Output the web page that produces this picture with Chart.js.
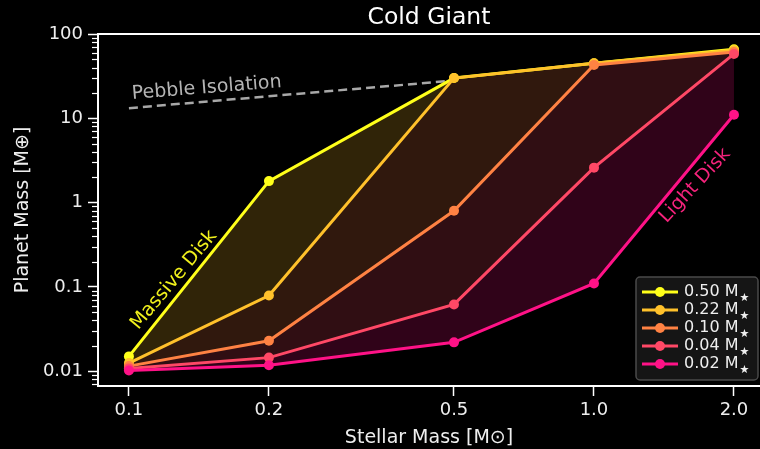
<!DOCTYPE html>
<html>
<head>
<meta charset="utf-8">
<script src="https://cdn.jsdelivr.net/npm/chart.js@4.4.1/dist/chart.umd.min.js"></script>
<style>
  html, body { margin: 0; padding: 0; background: #000; }
  #wrap { width: 760px; height: 449px; }
</style>
</head>
<body>
<div id="wrap"><canvas id="myChart"></canvas></div>
<script>
// stellar mass on x, planet mass on y (both log)
const stellarMass = [0.1, 0.2, 0.5, 1.0, 2.0];
const xTickLabels = ['0.1', '0.2', '0.5', '1.0', '2.0'];
const yTicks = [0.01, 0.1, 1, 10, 100];
const yTickLabels = ['0.01', '0.1', '1', '10', '100'];

const diskLabels = ['0.50 M', '0.22 M', '0.10 M', '0.04 M', '0.02 M'];
const diskColors = ['#ffff1a', '#ffc12b', '#ff8243', '#ff4866', '#ff1287'];

const disk050 = [0.015, 1.8, 30, 45, 66];
const disk022 = [0.0125, 0.079, 30, 45, 64];
const disk010 = [0.0115, 0.023, 0.8, 43, 61];
const disk004 = [0.0108, 0.0145, 0.062, 2.6, 58];
const disk002 = [0.0102, 0.0118, 0.022, 0.11, 11];

const pebbleX = [0.1, 0.483];
const pebbleY = [13.2, 27.6];

const FONT = 'DejaVu Sans';

function withAlpha(hex, a) {
  const n = parseInt(hex.slice(1), 16);
  return `rgba(${(n >> 16) & 255},${(n >> 8) & 255},${n & 255},${a})`;
}

const series = [disk050, disk022, disk010, disk004, disk002];
const datasets = series.map((vals, i) => ({
  label: diskLabels[i],
  data: stellarMass.map((x, j) => ({ x: x, y: vals[j] })),
  borderColor: diskColors[i],
  backgroundColor: withAlpha(diskColors[i], 0.19),
  pointBackgroundColor: diskColors[i],
  pointBorderColor: diskColors[i],
  pointRadius: 5,
  pointBorderWidth: 0,
  borderWidth: 3,
  fill: i === 0 ? false : '-1',
  order: 4 - i,
  tension: 0
}));
datasets.push({
  label: 'Pebble Isolation',
  data: pebbleX.map((x, j) => ({ x: x, y: pebbleY[j] })),
  borderColor: '#a8a8a8',
  borderWidth: 2.5,
  borderDash: [9, 5],
  pointRadius: 0,
  fill: false,
  order: 10
});

const notes = [
  { text: 'Pebble Isolation', x: 0.147, y: 22.8, angle: -4.5, color: '#b4b4b4' },
  { text: 'Massive Disk', x: 0.125, y: 0.121, angle: -50, color: '#f0f01c' },
  { text: 'Light Disk', x: 1.65, y: 1.59, angle: -47, color: '#f5237c' }
];

const decor = {
  id: 'decor',
  afterDraw(chart) {
    const { ctx, chartArea: ca, scales } = chart;
    const xs = scales.x, ys = scales.y;
    ctx.save();

    // top spine
    ctx.strokeStyle = '#fff';
    ctx.lineWidth = 2;
    ctx.beginPath();
    ctx.moveTo(ca.left, ca.top);
    ctx.lineTo(ca.right, ca.top);
    ctx.stroke();

    // minor ticks on y
    ctx.lineWidth = 1.2;
    for (let d = -3; d <= 1; d++) {
      for (let m = 2; m <= 9; m++) {
        const v = m * Math.pow(10, d);
        if (v < ys.min || v > ys.max) continue;
        const py = Math.round(ys.getPixelForValue(v)) + 0.5;
        ctx.beginPath();
        ctx.moveTo(ca.left - 6, py);
        ctx.lineTo(ca.left, py);
        ctx.stroke();
      }
    }

    // title
    ctx.fillStyle = '#fff';
    ctx.font = `23.5px "${FONT}"`;
    ctx.textAlign = 'center';
    ctx.textBaseline = 'middle';
    ctx.fillText('Cold Giant', (ca.left + ca.right) / 2, 18);

    // annotations
    notes.forEach(n => {
      ctx.save();
      ctx.translate(xs.getPixelForValue(n.x), ys.getPixelForValue(n.y));
      ctx.rotate(n.angle * Math.PI / 180);
      ctx.fillStyle = n.color;
      ctx.font = `19px "${FONT}"`;
      ctx.textAlign = 'center';
      ctx.textBaseline = 'middle';
      ctx.fillText(n.text, 0, 0);
      ctx.restore();
    });

    // legend
    const bw = 122, bh = 103;
    const bx = ca.right - 124, by = ca.bottom - 109;
    ctx.fillStyle = '#151515';
    ctx.strokeStyle = '#4a4a4a';
    ctx.lineWidth = 1.5;
    ctx.beginPath();
    ctx.roundRect(bx, by, bw, bh, 4);
    ctx.fill();
    ctx.stroke();
    diskLabels.forEach((lab, i) => {
      const ry = by + 15 + i * 18;
      ctx.strokeStyle = diskColors[i];
      ctx.lineWidth = 3;
      ctx.beginPath();
      ctx.moveTo(bx + 6, ry);
      ctx.lineTo(bx + 42, ry);
      ctx.stroke();
      ctx.fillStyle = diskColors[i];
      ctx.beginPath();
      ctx.arc(bx + 24, ry, 5, 0, Math.PI * 2);
      ctx.fill();
      ctx.fillStyle = '#eee';
      ctx.font = `16px "${FONT}"`;
      ctx.textAlign = 'left';
      ctx.textBaseline = 'middle';
      ctx.fillText(lab, bx + 48, ry);
      const w = ctx.measureText(lab).width;
      ctx.font = `11px "${FONT}"`;
      ctx.fillText('★', bx + 49 + w, ry + 6);
    });

    ctx.restore();
  }
};

new Chart(document.getElementById('myChart').getContext('2d'), {
  type: 'line',
  data: { datasets: datasets },
  options: {
    responsive: true,
    maintainAspectRatio: false,
    animation: false,
    layout: { autoPadding: false, padding: { top: 34, right: 0, left: 0, bottom: 0 } },
    plugins: {
      legend: { display: false },
      tooltip: { enabled: false },
      filler: { drawTime: 'beforeDatasetsDraw' }
    },
    scales: {
      x: {
        type: 'logarithmic',
        min: 0.0858,
        max: 2.275,
        afterBuildTicks: s => { s.ticks = stellarMass.map(v => ({ value: v })); },
        afterFit: s => { s.height = 63; },
        ticks: {
          color: '#eee',
          font: { family: FONT, size: 18 },
          padding: 4,
          maxRotation: 0,
          autoSkip: false,
          callback: v => xTickLabels[stellarMass.indexOf(v)]
        },
        grid: { display: true, drawOnChartArea: false, drawTicks: true, tickLength: 10, tickWidth: 1.5, color: '#fff' },
        border: { color: '#fff', width: 2 },
        title: {
          display: true,
          text: 'Stellar Mass [M⊙]',
          color: '#eee',
          font: { family: FONT, size: 19 },
          padding: { top: 1, bottom: 0 }
        }
      },
      y: {
        type: 'logarithmic',
        min: 0.00668,
        max: 100,
        afterBuildTicks: s => { s.ticks = yTicks.map(v => ({ value: v })); },
        afterFit: s => { s.width = 98; },
        ticks: {
          color: '#eee',
          font: { family: FONT, size: 18 },
          padding: 5,
          autoSkip: false,
          callback: v => yTickLabels[yTicks.indexOf(v)]
        },
        grid: { display: true, drawOnChartArea: false, drawTicks: true, tickLength: 10, tickWidth: 1.5, color: '#fff' },
        border: { color: '#fff', width: 2 },
        title: {
          display: true,
          text: 'Planet Mass [M⊕]',
          color: '#eee',
          font: { family: FONT, size: 19 },
          padding: { top: 12, bottom: 0 }
        }
      }
    }
  },
  plugins: [decor]
});
</script>
</body>
</html>
